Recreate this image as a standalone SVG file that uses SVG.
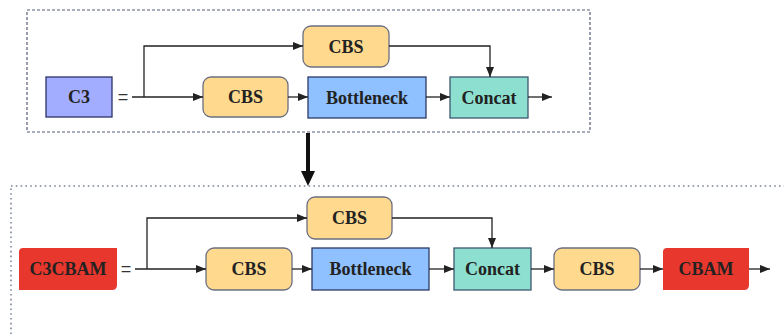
<svg xmlns="http://www.w3.org/2000/svg" width="784" height="335" viewBox="0 0 784 335">
<style>
.lbl{font-family:"Liberation Serif","Times New Roman",serif;font-weight:bold;font-size:18px;fill:#222;text-anchor:middle;dominant-baseline:central}
.eq{font-family:"Liberation Sans",Arial,sans-serif;font-size:18px;fill:#333;text-anchor:middle;dominant-baseline:central}
.cbs{fill:#ffd98e;stroke:#6b6f80;stroke-width:1.3}
.bot{fill:#8fc0ff;stroke:#2c3a66;stroke-width:1.3}
.cat{fill:#8de0d0;stroke:#3c5870;stroke-width:1.3}
.c3{fill:#a3adff;stroke:#2c3266;stroke-width:1.3}
.red{fill:#e8372c}
.ln{fill:none;stroke:#222;stroke-width:1.3}
</style>
<defs>
<marker id="ah" markerWidth="10" markerHeight="8" refX="10" refY="4" orient="auto" markerUnits="userSpaceOnUse">
<path d="M0,0 L10,4 L0,8 Z" fill="#222"/>
</marker>
</defs>
<rect x="27" y="10" width="563" height="122" fill="none" stroke="#555b78" stroke-width="1.2" stroke-dasharray="3,2"/>
<rect x="11" y="186" width="790" height="160" fill="none" stroke="#7a8499" stroke-width="1.6" stroke-dasharray="1.6,3.2"/>
<g id="c3"><rect class="c3" x="46" y="77" width="66" height="40"/><text class="lbl" x="79" y="97">C3</text></g>
<text class="eq" x="123" y="97">=</text>
<g id="cbs1"><rect class="cbs" x="203" y="77" width="85" height="40" rx="8"/><text class="lbl" x="245.5" y="97">CBS</text></g>
<g id="cbs2"><rect class="cbs" x="303" y="26" width="86" height="41" rx="8"/><text class="lbl" x="346" y="46.5">CBS</text></g>
<g id="bottleneck1"><rect class="bot" x="308" y="77" width="118" height="41"/><text class="lbl" x="367" y="97.5">Bottleneck</text></g>
<g id="concat1"><rect class="cat" x="450" y="77" width="78" height="41"/><text class="lbl" x="489" y="97.5">Concat</text></g>
<g id="c3cbam"><path class="red" d="M23,248 H117 V285 Q117,290 112,290 H19 V252 Q19,248 23,248 Z"/><text class="lbl" x="68" y="269">C3CBAM</text></g>
<text class="eq" x="126" y="269">=</text>
<g id="cbs3"><rect class="cbs" x="206" y="248" width="86" height="42" rx="8"/><text class="lbl" x="249" y="269">CBS</text></g>
<g id="cbs4"><rect class="cbs" x="307" y="197" width="85" height="42" rx="8"/><text class="lbl" x="349.5" y="218">CBS</text></g>
<g id="bottleneck2"><rect class="bot" x="312" y="248" width="117" height="42"/><text class="lbl" x="370.5" y="269">Bottleneck</text></g>
<g id="concat2"><rect class="cat" x="454" y="248" width="77" height="42"/><text class="lbl" x="492.5" y="269">Concat</text></g>
<g id="cbs5"><rect class="cbs" x="554" y="248" width="86" height="42" rx="8"/><text class="lbl" x="597" y="269">CBS</text></g>
<g id="cbam"><path class="red" d="M667,248 H749 V285 Q749,290 744,290 H663 V252 Q663,248 667,248 Z"/><text class="lbl" x="706" y="269">CBAM</text></g>
<g id="connectors">
<path class="ln" d="M132,97 H203" marker-end="url(#ah)"/>
<path class="ln" d="M144,97 V46 H303" marker-end="url(#ah)"/>
<path class="ln" d="M288,97 H308" marker-end="url(#ah)"/>
<path class="ln" d="M426,97 H450" marker-end="url(#ah)"/>
<path class="ln" d="M389,46 H490 V77" marker-end="url(#ah)"/>
<path class="ln" d="M528,97 H552" marker-end="url(#ah)"/>
<path d="M308,133 V172" stroke="#111" stroke-width="4" fill="none"/>
<path d="M301,171 L315,171 L308,186 Z" fill="#111"/>
<path class="ln" d="M135,269 H206" marker-end="url(#ah)"/>
<path class="ln" d="M147,269 V218 H307" marker-end="url(#ah)"/>
<path class="ln" d="M292,269 H312" marker-end="url(#ah)"/>
<path class="ln" d="M429,269 H454" marker-end="url(#ah)"/>
<path class="ln" d="M392,218 H492 V248" marker-end="url(#ah)"/>
<path class="ln" d="M531,269 H554" marker-end="url(#ah)"/>
<path class="ln" d="M640,269 H663" marker-end="url(#ah)"/>
<path class="ln" d="M749,269 H770" marker-end="url(#ah)"/>
</g>
</svg>
